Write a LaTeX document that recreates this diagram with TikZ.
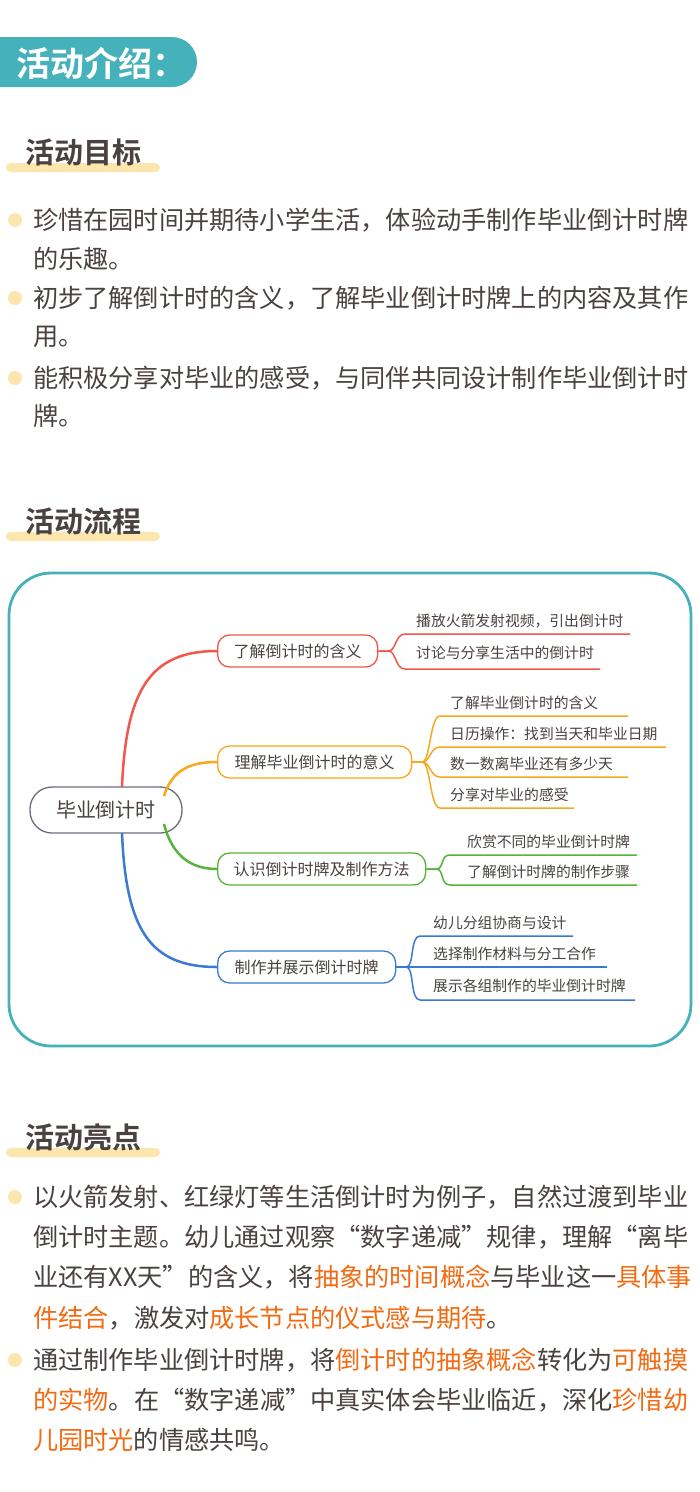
\documentclass[tikz,border=0pt]{standalone}
\usepackage{fontspec}
\setmainfont{Noto Sans CJK SC}
\newfontfamily\cjkb{Noto Sans CJK SC Bold}
\usetikzlibrary{calc}
\definecolor{teal1}{HTML}{45B1BB}
\definecolor{ylbar}{HTML}{FDE6AE}
\definecolor{txt}{HTML}{4A4240}
\definecolor{hlc}{HTML}{F26B12}
\definecolor{cr}{HTML}{F2574B}
\definecolor{co}{HTML}{F8A81C}
\definecolor{cg}{HTML}{56B43A}
\definecolor{cb}{HTML}{3B7AD2}
\definecolor{cgray}{HTML}{6A6F80}
\newcommand{\hlt}[1]{\textcolor{hlc}{#1}}
\tikzset{
 body/.style={anchor=west,inner sep=0pt,text=txt,font=\fontsize{25.2}{25}\selectfont},
 head/.style={anchor=west,inner sep=0pt,text=txt,font=\cjkb\fontsize{29}{29}\selectfont},
 bullet/.style={circle,fill=ylbar,inner sep=0pt,minimum size=14pt},
 br/.style={draw=#1,line width=1.3pt,rounded corners=12pt,minimum height=32pt,inner sep=0pt,anchor=west,font=\fontsize{16}{16}\selectfont,text=txt},
 leaf/.style={anchor=base west,inner sep=0pt,font=\fontsize{14.8}{14}\selectfont,text=txt},
 lk/.style={draw=#1,line width=1.5pt},
}
\newcommand{\leafline}[5]{\draw[lk=#2] (#1.east) -- ++(10,0) .. controls ++(8,0) and ($(#3,#4)+(-10,0)$) .. (#3,#4) -- (#5,#4);}
\begin{document}
\begin{tikzpicture}[x=1pt,y=-1pt]
\useasboundingbox[fill=white] (0,0) rectangle (700,1492);
% header
\begin{scope}
\clip (0,0) rectangle (700,1492);
\fill[teal1,rounded corners=25pt] (-40,37) rectangle (197,87);
\end{scope}
\node[anchor=west,inner sep=0pt,text=white,font=\cjkb\fontsize{34}{34}\selectfont] (title) at (16,63) {活动介绍：};
% section 1
\fill[ylbar,rounded corners=4.5pt] (6,163) rectangle (160,172);
\node[head] (h1) at (25,152) {活动目标};
\foreach \y in {220,298,378} \node[bullet] at (15,\y) {};
\node[body] (a1) at (33,220) {珍惜在园时间并期待小学生活，体验动手制作毕业倒计时牌};
\node[body] (a2) at (33,259) {的乐趣。};
\node[body] (a3) at (33,298) {初步了解倒计时的含义，了解毕业倒计时牌上的内容及其作};
\node[body] (a4) at (33,337) {用。};
\node[body] (a5) at (33,378) {能积极分享对毕业的感受，与同伴共同设计制作毕业倒计时};
\node[body] (a6) at (33,416) {牌。};
% section 2
\fill[ylbar,rounded corners=4.5pt] (6,532) rectangle (160,541);
\node[head] (h2) at (25,521) {活动流程};
\draw[teal1,line width=2.8pt,rounded corners=42pt] (9,573) rectangle (691,1046);
\node[draw=cgray,line width=1.3pt,rounded corners=22pt,minimum width=152pt,minimum height=46pt,font=\fontsize{20}{20}\selectfont,text=txt] (root) at (106,810) {毕业倒计时};
\node[br=cr,minimum width=160pt] (b1) at (217,651) {了解倒计时的含义};
\node[br=co,minimum width=194pt] (b2) at (217,762) {理解毕业倒计时的意义};
\node[br=cg,minimum width=208pt] (b3) at (217,869) {认识倒计时牌及制作方法};
\node[br=cb,minimum width=178pt] (b4) at (217,967) {制作并展示倒计时牌};
\draw[lk=cr,line width=2.5pt] (122,787) .. controls (126,690) and (150,651) .. (b1.west);
\draw[lk=co,line width=2.5pt] (164,796) .. controls (172,770) and (190,762) .. (b2.west);
\draw[lk=cg,line width=2.5pt] (164,824) .. controls (172,855) and (190,869) .. (b3.west);
\draw[lk=cb,line width=2.5pt] (122,833) .. controls (126,930) and (150,967) .. (b4.west);
\leafline{b1}{cr}{405}{634}{630}
\leafline{b1}{cr}{405}{669}{600}
\node[leaf] (l11) at (416,626) {播放火箭发射视频，引出倒计时};
\node[leaf] (l12) at (416,658) {讨论与分享生活中的倒计时};
\leafline{b2}{co}{440}{716}{628}
\leafline{b2}{co}{440}{747}{666}
\leafline{b2}{co}{440}{777}{628}
\leafline{b2}{co}{440}{808}{574}
\node[leaf] (l21) at (450,708) {了解毕业倒计时的含义};
\node[leaf] (l22) at (450,739) {日历操作：找到当天和毕业日期};
\node[leaf] (l23) at (450,769) {数一数离毕业还有多少天};
\node[leaf] (l24) at (450,800) {分享对毕业的感受};
\leafline{b3}{cg}{450}{855}{637}
\leafline{b3}{cg}{450}{885}{637}
\node[leaf] (l31) at (467,847) {欣赏不同的毕业倒计时牌};
\node[leaf] (l32) at (467,877) {了解倒计时牌的制作步骤};
\leafline{b4}{cb}{420}{936}{573}
\leafline{b4}{cb}{420}{967}{607}
\leafline{b4}{cb}{420}{1000}{635}
\node[leaf] (l41) at (433,928) {幼儿分组协商与设计};
\node[leaf] (l42) at (433,959) {选择制作材料与分工合作};
\node[leaf] (l43) at (433,991) {展示各组制作的毕业倒计时牌};
% section 3
\fill[ylbar,rounded corners=4.5pt] (6,1148) rectangle (160,1157);
\node[head] (h3) at (25,1137) {活动亮点};
\foreach \y in {1197,1360} \node[bullet] at (15,\y) {};
\node[body] (c1) at (33,1197) {以火箭发射、红绿灯等生活倒计时为例子，自然过渡到毕业};
\node[body] (c2) at (33,1237) {倒计时主题。幼儿通过观察“数字递减”规律，理解“离毕};
\node[body] (c3) at (33,1277) {业还有XX天”的含义，将\hlt{抽象的时间概念}与毕业这一\hlt{具体事}};
\node[body] (c4) at (33,1318) {\hlt{件结合}，激发对\hlt{成长节点的仪式感与期待}。};
\node[body] (c5) at (33,1360) {通过制作毕业倒计时牌，将\hlt{倒计时的抽象概念}转化为\hlt{可触摸}};
\node[body] (c6) at (33,1400) {\hlt{的实物}。在“数字递减”中真实体会毕业临近，深化\hlt{珍惜幼}};
\node[body] (c7) at (33,1440) {\hlt{儿园时光}的情感共鸣。};
\end{tikzpicture}
\end{document}
